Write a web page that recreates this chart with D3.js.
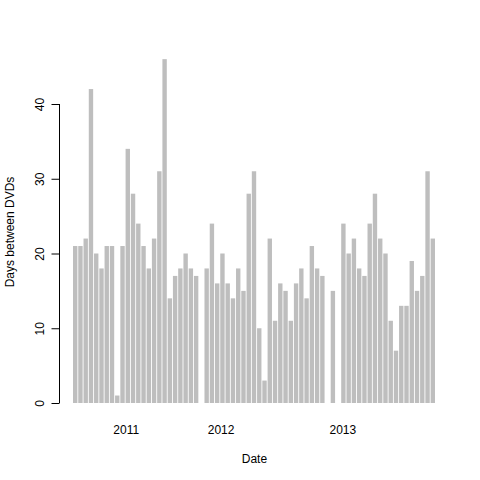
<!DOCTYPE html>
<html>
<head>
<meta charset="utf-8">
<script src="https://cdn.jsdelivr.net/npm/d3@7"></script>
<style>
  html, body { margin: 0; padding: 0; background: #fff; }
  svg { display: block; font-family: "Liberation Sans", Arial, Helvetica, sans-serif; }
</style>
</head>
<body>
<script>
// Days between DVD deliveries (null = missing interval, no bar drawn)
const days = [
  21, 21, 22, 42, 20, 18, 21, 21, 1, 21,
  34, 28, 24, 21, 18, 22, 31, 46, 14, 17,
  18, 20, 18, 17, null, 18, 24, 16, 20, 16,
  14, 18, 15, 28, 31, 10, 3, 22, 11, 16,
  15, 11, 16, 18, 14, 21, 18, 17, null, 15,
  null, 24, 20, 22, 18, 17, 24, 28, 22, 20,
  11, 7, 13, 13, 19, 15, 17, 31, 22
];
const barIndex = days.map((d, i) => i);
// Year labels and their position along the sequence of bars (bar index)
const yearLabels = ["2011", "2012", "2013"];
const yearBarPos = [9.7, 27.75, 50.9];
const yTicks = [0, 10, 20, 30, 40];

const W = 480, H = 480;
const svg = d3.select("body").append("svg").attr("width", W).attr("height", H);

const x = d3.scaleBand().domain(barIndex).range([73, 435]).paddingInner(1 / 6).paddingOuter(0);
const y = d3.scaleLinear().domain([0, 40]).range([403, 104]);
const step = x.step();
const xPos = p => x(0) + x.bandwidth() / 2 + p * step;

// bars
svg.append("g").selectAll("rect")
  .data(days.map((v, i) => ({ v, i })).filter(d => d.v != null && d.v > 0))
  .join("rect")
  .attr("x", d => x(d.i))
  .attr("width", x.bandwidth())
  .attr("y", d => y(d.v))
  .attr("height", d => y(0) - y(d.v))
  .attr("fill", "#bebebe");

// y axis
const yAxis = d3.axisLeft(y).tickValues(yTicks).tickSize(8).tickPadding(0).tickFormat(d3.format("d"));
const gy = svg.append("g").attr("transform", "translate(59.5,0)").call(yAxis);
gy.select(".domain").attr("stroke", "#000").attr("d", `M0.5,${y(0)}V${y(40)}`).attr("transform", "translate(-0.5,0)");
gy.selectAll(".tick line").attr("stroke", "#000");
gy.selectAll(".tick text")
  .attr("x", 0).attr("dy", null)
  .attr("transform", "translate(-16,0) rotate(-90)")
  .attr("text-anchor", "middle")
  .attr("font-size", 12)
  .attr("font-family", "Liberation Sans, Arial, sans-serif")
  .attr("fill", "#000");

// year labels
svg.append("g").selectAll("text")
  .data(yearLabels)
  .join("text")
  .attr("x", (d, i) => xPos(yearBarPos[i]))
  .attr("y", 433.5)
  .attr("text-anchor", "middle")
  .attr("font-size", 12)
  .attr("fill", "#000")
  .text(d => d);

// axis titles
svg.append("text")
  .attr("x", 254.4).attr("y", 463)
  .attr("text-anchor", "middle")
  .attr("font-size", 12)
  .attr("fill", "#000")
  .text("Date");

svg.append("text")
  .attr("transform", "translate(14,232) rotate(-90)")
  .attr("text-anchor", "middle")
  .attr("font-size", 12)
  .attr("fill", "#000")
  .text("Days between DVDs");
</script>
</body>
</html>
